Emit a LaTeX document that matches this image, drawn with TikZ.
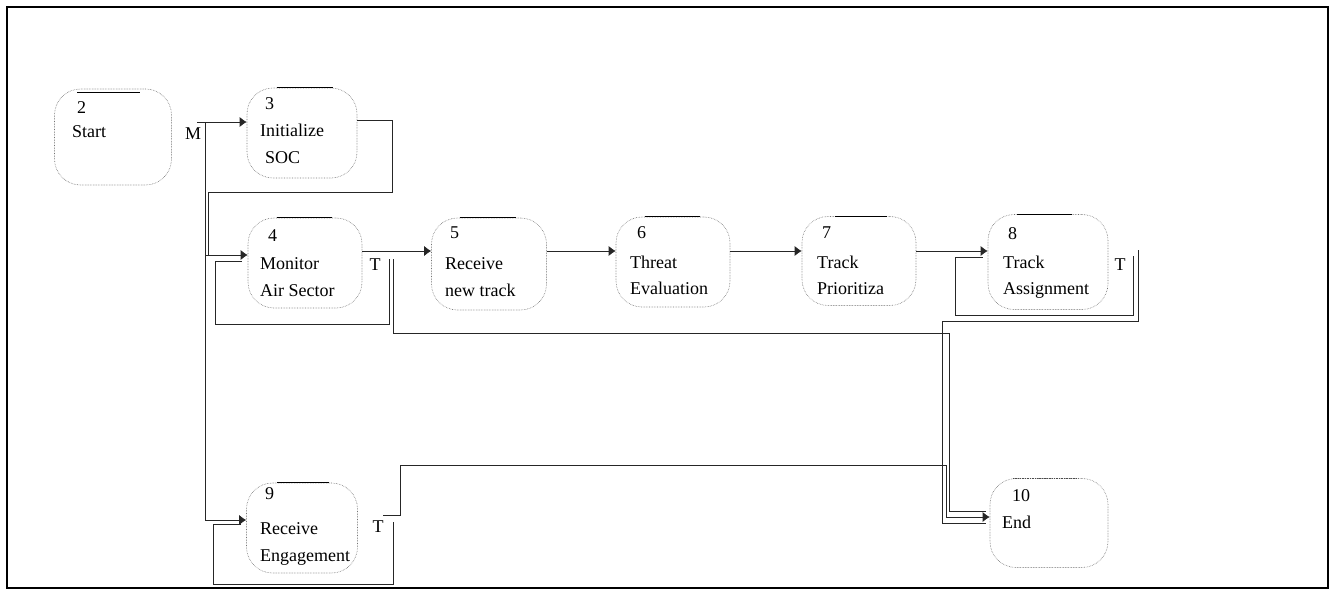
\documentclass[tikz,border=0pt]{standalone}
\usepackage{fontspec}
\setmainfont{Liberation Serif}
\usetikzlibrary{arrows.meta}
\begin{document}
\begin{tikzpicture}[x=1pt,y=-1pt,
  shapebox/.style={draw=black!55, densely dotted, line width=0.6pt, rounded corners=26pt, inner sep=0pt},
  bar/.style={draw=black, line width=0.7pt},
  ln/.style={draw=black!85, line width=0.7pt},
  arr/.style={ln, -{Latex[length=7pt,width=10pt]}},
  txt/.style={anchor=base west, inner sep=0pt, font=\fontsize{18}{27}\selectfont},
  lab/.style={inner sep=0pt, font=\fontsize{18}{27}\selectfont},
  frame/.style={draw=black, line width=1.1pt}]
\useasboundingbox (0,0) rectangle (1335,592);
\draw[frame] (7,7) rectangle (1328,588);

% process shapes
\node[shapebox, minimum width=117pt, minimum height=96pt] (n2) at (113,137) {};
\node[shapebox, minimum width=110pt, minimum height=90pt] (n3) at (302,133) {};
\node[shapebox, minimum width=114pt, minimum height=90pt] (n4) at (305,263) {};
\node[shapebox, minimum width=115pt, minimum height=92pt] (n5) at (489,264) {};
\node[shapebox, minimum width=114pt, minimum height=90pt] (n6) at (673,262) {};
\node[shapebox, minimum width=114pt, minimum height=89pt] (n7) at (859,261) {};
\node[shapebox, minimum width=120pt, minimum height=95pt] (n8) at (1048,262) {};
\node[shapebox, minimum width=111pt, minimum height=90pt] (n9) at (302,528) {};
\node[shapebox, minimum width=118pt, minimum height=89pt] (n10) at (1049,523) {};

% top bars
\draw[bar] ([xshift=-36pt,yshift=-4pt]n2.north) -- ([xshift=27pt,yshift=-4pt]n2.north);
\draw[bar] ([xshift=-25pt]n3.north) -- ([xshift=31pt]n3.north);
\draw[bar] ([xshift=-28pt]n4.north) -- ([xshift=27pt]n4.north);
\draw[bar] ([xshift=-29pt]n5.north) -- ([xshift=27pt]n5.north);
\draw[bar] ([xshift=-28pt]n6.north) -- ([xshift=27pt]n6.north);
\draw[bar] ([xshift=-24pt]n7.north) -- ([xshift=28pt]n7.north);
\draw[bar] ([xshift=-31pt]n8.north) -- ([xshift=24pt]n8.north);
\draw[bar] ([xshift=-25pt]n9.north) -- ([xshift=27pt]n9.north);
\draw[bar, densely dotted, draw=black!70] ([xshift=-36pt]n10.north) -- ([xshift=28pt]n10.north);

% texts
\node[txt] (k2) at (77,113) {2};
\node[txt] (s2a) at (72,137) {Start};
\node[txt] (k3) at (265,109) {3};
\node[txt] (s3a) at (260,136) {Initialize};
\node[txt] (s3b) at (265,163) {SOC};
\node[txt] (k4) at (268,241) {4};
\node[txt] (s4a) at (260,269) {Monitor};
\node[txt] (s4b) at (260,296) {Air Sector};
\node[txt] (k5) at (450,238) {5};
\node[txt] (s5a) at (445,269) {Receive};
\node[txt] (s5b) at (445,296) {new track};
\node[txt] (k6) at (637,238) {6};
\node[txt] (s6a) at (630,268) {Threat};
\node[txt] (s6b) at (630,294) {Evaluation};
\node[txt] (k7) at (822,238) {7};
\node[txt] (s7a) at (817,268) {Track};
\node[txt] (s7b) at (817,294) {Prioritiza};
\node[txt] (k8) at (1008,239) {8};
\node[txt] (s8a) at (1003,268) {Track};
\node[txt] (s8b) at (1003,294) {Assignment};
\node[txt] (k9) at (265,499) {9};
\node[txt] (s9a) at (260,534) {Receive};
\node[txt] (s9b) at (260,561) {Engagement};
\node[txt] (k10) at (1012,501) {10};
\node[txt] (s10a) at (1002,528) {End};

% gate labels
\node[lab] (lM) at (193,134) {M};
\node[lab] (t4) at (375,265) {T};
\node[lab] (t8) at (1120,265) {T};
\node[lab] (t9) at (378,527) {T};

% helper coordinates
\coordinate (jM) at (205,122);
\coordinate (r) at (0,251);
\coordinate (a4) at ([yshift=8pt]n4.west);
\coordinate (o3) at ([yshift=13pt]n3.east);

% Start -> Initialize, trunk
\draw[arr] ([xshift=-8pt]jM) -- (n3.west |- jM);
\draw[arr] (jM) |- ([yshift=8pt]n9.west);
\draw[arr] (jM |- a4) -- (a4);
% Initialize return
\draw[ln] (o3) -| (392,192) -| (208,255);
% Monitor loop
\draw[ln] (389,259) |- (215,324) |- ([xshift=-6pt]n4.west |- 0,261);
% chain
\draw[arr] (n4.east |- r) -- (n5.west |- r);
\draw[arr] (n5.east |- r) -- (n6.west |- r);
\draw[arr] (n6.east |- r) -- (n7.west |- r);
\draw[arr] (n7.east |- r) -- (n8.west |- r);
% Track Assignment loop
\draw[ln] (1133,256) |- (955,315) |- ([xshift=-5pt]n8.west |- 0,257);
% to End
\draw[ln] (1138,250) |- (942,321) |- ([xshift=-4pt]n10.west |- 0,523);
\draw[ln] (393,259) |- (949,333) |- ([xshift=-4pt]n10.west |- 0,511);
\draw[arr] (383,515) -| (400,465) -| (946,517) -- (n10.west |- 0,517);
% Receive Engagement loop
\draw[ln] (393,522) |- (213,584) |- ([xshift=-5pt]n9.west |- 0,524);
\end{tikzpicture}
\end{document}
